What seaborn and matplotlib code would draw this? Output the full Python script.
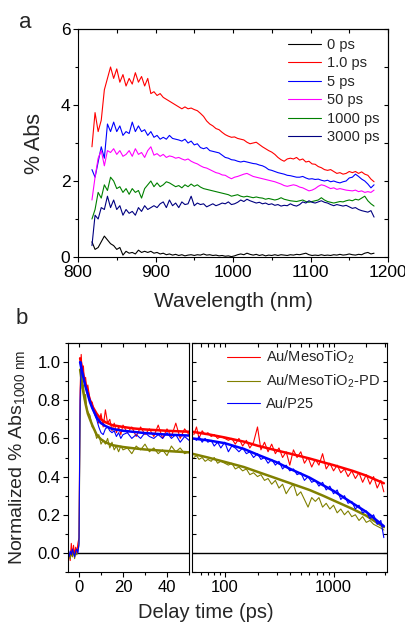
import numpy as np
import matplotlib
matplotlib.use('Agg')
import matplotlib.pyplot as plt
import seaborn as sns
from matplotlib.ticker import MultipleLocator, FixedLocator, NullFormatter

# ---- panel a: transient spectra (% Abs vs wavelength) ----
wavelength = np.arange(818, 1183, 4)

abs_0ps = [0.40, 0.20, 0.25, 0.40, 0.55, 0.45, 0.35, 0.30, 0.20, 0.25,
           0.05, 0.15, 0.10, 0.12, 0.08, 0.18, 0.12, 0.15, 0.12, 0.15,
           0.10, 0.12, 0.08, 0.10, 0.06, 0.08, 0.05, 0.07, 0.04, 0.06,
           0.03, 0.05, 0.06, 0.04, 0.06, 0.05, 0.08, 0.05, 0.06, 0.04,
           0.05, 0.03, 0.04, 0.02, 0.03, 0.01, 0.03, 0.06, 0.08, 0.06,
           0.10, 0.07, 0.05, 0.07, 0.04, 0.06, 0.03, 0.05, 0.04, 0.06,
           0.04, 0.06, 0.05, 0.04, 0.06, 0.05, 0.07, 0.06, 0.08, 0.10,
           0.06, 0.04, 0.05, 0.04, 0.06, 0.04, 0.05, 0.04, 0.06, 0.05,
           0.07, 0.05, 0.06, 0.08, 0.06, 0.05, 0.07, 0.06, 0.10, 0.12,
           0.08, 0.10]
abs_1ps = [2.90, 3.80, 3.30, 3.60, 4.40, 4.70, 5.00, 4.70, 4.95, 4.60,
           4.80, 4.50, 4.70, 4.55, 4.85, 4.60, 4.75, 4.50, 4.70, 4.30,
           4.35, 4.25, 4.30, 4.20, 4.15, 4.10, 4.05, 4.00, 3.95, 3.90,
           3.95, 3.90, 3.92, 3.88, 3.85, 3.78, 3.70, 3.58, 3.50, 3.45,
           3.38, 3.35, 3.28, 3.22, 3.18, 3.15, 3.16, 3.12, 3.10, 3.08,
           3.02, 2.98, 3.00, 3.02, 2.96, 2.90, 2.85, 2.80, 2.76, 2.70,
           2.62, 2.56, 2.52, 2.58, 2.60, 2.58, 2.62, 2.55, 2.58, 2.50,
           2.52, 2.45, 2.44, 2.38, 2.35, 2.30, 2.28, 2.30, 2.25, 2.20,
           2.22, 2.18, 2.20, 2.25, 2.22, 2.25, 2.20, 2.24, 2.18, 2.15,
           2.05, 1.98]
abs_5ps = [2.30, 2.10, 2.50, 2.90, 2.60, 3.50, 3.30, 3.55, 3.30, 3.45,
           3.20, 3.30, 3.25, 3.55, 3.30, 3.45, 3.30, 3.35, 3.20, 3.30,
           3.15, 3.20, 3.10, 3.15, 3.10, 3.20, 3.12, 3.10, 3.08, 3.05,
           3.10, 3.00, 3.05, 2.95, 2.98, 2.88, 2.85, 2.88, 2.80, 2.78,
           2.76, 2.74, 2.68, 2.62, 2.60, 2.56, 2.55, 2.52, 2.50, 2.52,
           2.50, 2.48, 2.46, 2.45, 2.42, 2.40, 2.36, 2.30, 2.28, 2.25,
           2.22, 2.20, 2.18, 2.15, 2.14, 2.12, 2.10, 2.10, 2.12, 2.08,
           2.05, 2.06, 2.04, 2.05, 2.02, 2.00, 2.02, 1.98, 2.00, 1.97,
           1.95, 1.98, 2.00, 2.08, 2.10, 2.18, 2.12, 2.05, 2.00, 1.92,
           1.82, 1.90]
abs_50ps = [1.50, 2.10, 2.60, 2.80, 2.40, 2.80, 2.75, 2.85, 2.70, 2.80,
            2.65, 2.70, 2.80, 2.65, 2.85, 2.70, 2.75, 2.62, 2.80, 2.90,
            2.68, 2.72, 2.65, 2.70, 2.62, 2.66, 2.64, 2.60, 2.62, 2.58,
            2.55, 2.58, 2.52, 2.48, 2.45, 2.40, 2.36, 2.34, 2.30, 2.26,
            2.22, 2.20, 2.16, 2.15, 2.10, 2.06, 2.10, 2.12, 2.15, 2.18,
            2.20, 2.16, 2.12, 2.10, 2.08, 2.06, 2.04, 2.02, 2.00, 1.98,
            1.95, 1.92, 1.88, 1.86, 1.88, 1.90, 1.88, 1.84, 1.82, 1.78,
            1.74, 1.76, 1.80, 1.86, 1.90, 1.88, 1.84, 1.80, 1.82, 1.78,
            1.80, 1.78, 1.76, 1.75, 1.74, 1.76, 1.72, 1.74, 1.70, 1.72,
            1.70, 1.76]
abs_1000ps = [1.00, 1.25, 1.70, 1.55, 1.90, 1.75, 2.10, 2.00, 1.80, 1.85,
              1.70, 1.80, 1.65, 1.80, 1.70, 1.75, 1.55, 1.80, 1.90, 2.00,
              1.85, 1.95, 1.85, 1.90, 1.98, 1.95, 1.90, 1.85, 1.88, 1.82,
              1.90, 1.85, 1.92, 1.86, 1.90, 1.84, 1.80, 1.78, 1.76, 1.74,
              1.72, 1.70, 1.68, 1.66, 1.64, 1.60, 1.62, 1.64, 1.60, 1.58,
              1.60, 1.58, 1.56, 1.58, 1.56, 1.55, 1.52, 1.54, 1.52, 1.50,
              1.52, 1.56, 1.52, 1.50, 1.48, 1.47, 1.46, 1.48, 1.50, 1.46,
              1.44, 1.46, 1.48, 1.50, 1.56, 1.50, 1.46, 1.44, 1.42, 1.44,
              1.46, 1.45, 1.48, 1.50, 1.48, 1.52, 1.50, 1.55, 1.60, 1.48,
              1.40, 1.34]
abs_3000ps = [0.30, 1.10, 1.00, 1.30, 1.25, 1.60, 1.30, 1.50, 1.25, 1.35,
              1.10, 1.25, 1.15, 1.20, 1.10, 1.30, 1.20, 1.35, 1.25, 1.30,
              1.35, 1.30, 1.40, 1.45, 1.30, 1.50, 1.35, 1.42, 1.30, 1.45,
              1.38, 1.40, 1.60, 1.35, 1.42, 1.38, 1.40, 1.32, 1.36, 1.40,
              1.35, 1.38, 1.42, 1.40, 1.45, 1.38, 1.40, 1.44, 1.50, 1.46,
              1.52, 1.48, 1.45, 1.42, 1.44, 1.40, 1.42, 1.38, 1.40, 1.36,
              1.38, 1.34, 1.36, 1.35, 1.40, 1.36, 1.34, 1.38, 1.45, 1.42,
              1.48, 1.44, 1.42, 1.45, 1.48, 1.44, 1.42, 1.38, 1.35, 1.38,
              1.36, 1.34, 1.36, 1.32, 1.28, 1.30, 1.25, 1.22, 1.20, 1.18,
              1.22, 1.05]

spectra_labels = ['0 ps', '1.0 ps', '5 ps', '50 ps', '1000 ps', '3000 ps']
spectra_colors = ['black', '#ff0000', '#0000ff', '#ff00ff', '#008000', '#000080']
spectra_values = [abs_0ps, abs_1ps, abs_5ps, abs_50ps, abs_1000ps, abs_3000ps]

# ---- panel b: kinetics at 1000 nm ----
t_early = [-4.5, -4, -3.5, -3, -2.5, -2, -1.5, -1, -0.5, 0,
           0.5, 1, 1.5, 2, 2.5, 3, 3.5, 4, 5, 6,
           7, 8, 9, 10, 11, 12, 13, 14, 15, 16,
           17, 18, 19, 20, 22, 24, 26, 28, 30, 32,
           34, 36, 38, 40, 42, 44, 46, 48, 50]
meso_early = [0.00, -0.04, 0.05, -0.02, 0.04, -0.01, 0.03, 0.00, 0.05, 0.08,
              0.85, 1.04, 0.93, 0.98, 0.88, 0.92, 0.86, 0.88, 0.80, 0.79,
              0.74, 0.72, 0.68, 0.73, 0.66, 0.75, 0.68, 0.70, 0.64, 0.68,
              0.63, 0.66, 0.62, 0.67, 0.63, 0.66, 0.61, 0.66, 0.62, 0.65,
              0.61, 0.67, 0.60, 0.65, 0.61, 0.68, 0.60, 0.65, 0.62]
mesopd_early = [-0.01, -0.03, 0.00, -0.02, 0.01, -0.03, 0.00, -0.01, 0.01, 0.04,
                0.70, 0.98, 0.86, 0.88, 0.80, 0.83, 0.76, 0.74, 0.72, 0.66,
                0.65, 0.60, 0.62, 0.57, 0.59, 0.57, 0.60, 0.55, 0.58, 0.54,
                0.56, 0.53, 0.56, 0.54, 0.55, 0.52, 0.56, 0.54, 0.57, 0.53,
                0.55, 0.52, 0.54, 0.51, 0.56, 0.53, 0.55, 0.52, 0.53]
p25_early = [-0.02, 0.01, -0.01, 0.02, 0.00, -0.02, 0.01, 0.02, 0.00, 0.05,
             0.80, 1.00, 0.95, 0.92, 0.90, 0.87, 0.86, 0.84, 0.80, 0.76,
             0.73, 0.70, 0.66, 0.63, 0.62, 0.65, 0.66, 0.64, 0.63, 0.64,
             0.61, 0.63, 0.60, 0.62, 0.63, 0.60, 0.62, 0.60, 0.63, 0.61,
             0.60, 0.62, 0.60, 0.63, 0.60, 0.62, 0.58, 0.61, 0.59]

t_late = [52, 55, 58, 62, 66, 70, 75, 80, 86, 92,
          100, 108, 116, 125, 135, 146, 158, 170, 184, 200,
          215, 232, 250, 270, 292, 315, 340, 367, 396, 428,
          462, 500, 540, 583, 630, 680, 734, 793, 856, 925,
          1000, 1080, 1166, 1260, 1360, 1470, 1587, 1714, 1851, 2000,
          2160, 2333, 2520, 2721, 2900]
meso_late = [0.62, 0.66, 0.60, 0.64, 0.62, 0.63, 0.61, 0.62, 0.60, 0.61,
             0.60, 0.59, 0.60, 0.57, 0.60, 0.56, 0.59, 0.55, 0.58, 0.66,
             0.54, 0.58, 0.53, 0.57, 0.52, 0.55, 0.50, 0.53, 0.46, 0.54,
             0.50, 0.53, 0.47, 0.50, 0.45, 0.49, 0.46, 0.52, 0.44, 0.47,
             0.43, 0.46, 0.42, 0.44, 0.40, 0.43, 0.39, 0.42, 0.37, 0.41,
             0.36, 0.40, 0.34, 0.38, 0.32]
mesopd_late = [0.50, 0.51, 0.49, 0.50, 0.48, 0.49, 0.48, 0.50, 0.47, 0.48,
               0.47, 0.46, 0.47, 0.44, 0.45, 0.43, 0.44, 0.41, 0.42, 0.40,
               0.41, 0.38, 0.39, 0.36, 0.38, 0.34, 0.36, 0.31, 0.34, 0.36,
               0.30, 0.32, 0.28, 0.24, 0.29, 0.27, 0.29, 0.24, 0.26, 0.23,
               0.25, 0.21, 0.23, 0.20, 0.22, 0.19, 0.20, 0.17, 0.19, 0.16,
               0.17, 0.15, 0.14, 0.13, 0.12]
p25_late = [0.60, 0.59, 0.61, 0.58, 0.60, 0.58, 0.59, 0.56, 0.58, 0.55,
            0.58, 0.53, 0.56, 0.55, 0.53, 0.55, 0.52, 0.53, 0.50, 0.52,
            0.49, 0.50, 0.47, 0.49, 0.46, 0.48, 0.44, 0.46, 0.43, 0.44,
            0.41, 0.42, 0.38, 0.40, 0.37, 0.38, 0.35, 0.37, 0.33, 0.35,
            0.31, 0.33, 0.28, 0.30, 0.26, 0.27, 0.23, 0.25, 0.21, 0.22,
            0.18, 0.20, 0.15, 0.17, 0.08]

# fitted curves
t_fit_early = [0.5, 1, 2, 3, 4, 5, 6, 8, 10, 12, 15, 20, 25, 30, 40, 50]
meso_fit_early = [1.02, 0.99, 0.93, 0.88, 0.84, 0.80, 0.77, 0.73, 0.70, 0.685,
                  0.67, 0.66, 0.652, 0.647, 0.64, 0.635]
mesopd_fit_early = [0.96, 0.92, 0.84, 0.78, 0.73, 0.70, 0.67, 0.62, 0.595, 0.58,
                    0.565, 0.555, 0.548, 0.542, 0.534, 0.527]
p25_fit_early = [1.00, 0.97, 0.92, 0.87, 0.83, 0.79, 0.76, 0.71, 0.68, 0.665,
                 0.65, 0.64, 0.634, 0.628, 0.62, 0.615]

t_fit_late = [50, 70, 100, 150, 200, 300, 400, 600, 800, 1000, 1500, 2000, 2900]
meso_fit_late = [0.635, 0.622, 0.605, 0.583, 0.562, 0.537, 0.52, 0.495, 0.475,
                 0.46, 0.43, 0.405, 0.365]
mesopd_fit_late = [0.52, 0.50, 0.477, 0.45, 0.425, 0.39, 0.365, 0.33, 0.30,
                   0.275, 0.23, 0.195, 0.135]
p25_fit_late = [0.60, 0.59, 0.575, 0.545, 0.515, 0.475, 0.44, 0.395, 0.355,
                0.325, 0.26, 0.215, 0.14]

sample_labels = ['Au/MesoTiO$_2$', 'Au/MesoTiO$_2$-PD', 'Au/P25']
sample_colors = ['#ff0000', '#808000', '#0000ff']


def setup_style():
    sns.set_theme(style='ticks')
    plt.rcParams['font.family'] = ['Liberation Sans', 'DejaVu Sans']
    plt.rcParams['mathtext.default'] = 'regular'
    plt.rcParams['axes.linewidth'] = 0.8
    plt.rcParams['xtick.major.width'] = 0.8
    plt.rcParams['ytick.major.width'] = 0.8
    plt.rcParams['xtick.minor.width'] = 0.8
    plt.rcParams['ytick.minor.width'] = 0.8
    plt.rcParams['xtick.color'] = 'black'
    plt.rcParams['ytick.color'] = 'black'
    plt.rcParams['axes.edgecolor'] = 'black'


def mirror_ticks(ax, xmajor, xminor, ymajor, yminor):
    # ticks on the top and right sides point inwards (Origin style)
    top = ax.secondary_xaxis('top')
    top.xaxis.set_major_locator(xmajor)
    top.xaxis.set_minor_locator(xminor)
    top.tick_params(which='both', direction='in', labeltop=False, length=3)
    if ymajor is not None:
        right = ax.secondary_yaxis('right')
        right.yaxis.set_major_locator(ymajor)
        right.yaxis.set_minor_locator(yminor)
        right.tick_params(which='both', direction='in', labelright=False, length=3)


def plot_spectra(fig):
    ax = fig.add_axes([78 / 406, 1 - 257 / 623, 310 / 406, 228 / 623])
    for name, col, vals in zip(spectra_labels, spectra_colors, spectra_values):
        sns.lineplot(x=wavelength, y=vals, ax=ax, color=col, lw=0.8,
                     label=name, errorbar=None)
    ax.set_xlim(800, 1200)
    ax.set_ylim(0, 6)
    ax.xaxis.set_major_locator(MultipleLocator(100))
    ax.xaxis.set_minor_locator(MultipleLocator(50))
    ax.yaxis.set_major_locator(MultipleLocator(2))
    ax.yaxis.set_minor_locator(MultipleLocator(1))
    ax.tick_params(which='both', direction='out', labelsize=12.5, length=3.5, pad=2)
    ax.tick_params(which='minor', length=2.5)
    mirror_ticks(ax, MultipleLocator(100), MultipleLocator(50),
                 MultipleLocator(2), MultipleLocator(1))
    ax.set_xlabel('Wavelength (nm)', fontsize=15)
    ax.xaxis.set_label_coords(0.5, -0.155)
    ax.set_ylabel('% Abs', fontsize=15.5)
    ax.yaxis.set_label_coords(-0.105, 0.5)
    ax.legend(loc='upper left', bbox_to_anchor=(0.677, 0.96), frameon=False,
              fontsize=10.5, borderpad=0, borderaxespad=0, labelspacing=0.3,
              handlelength=2.3, handletextpad=0.35)
    fig.text(25 / 406, 1 - 22 / 623, 'a', fontsize=16, ha='center', va='center')


def plot_kinetics(fig):
    bottom = 1 - 572 / 623
    height = 229 / 623
    ax_l = fig.add_axes([68 / 406, bottom, 121 / 406, height])
    ax_r = fig.add_axes([192 / 406, bottom, 195 / 406, height])

    early = [meso_early, mesopd_early, p25_early]
    late = [meso_late, mesopd_late, p25_late]
    fit_early = [meso_fit_early, mesopd_fit_early, p25_fit_early]
    fit_late = [meso_fit_late, mesopd_fit_late, p25_fit_late]

    for i, (name, col) in enumerate(zip(sample_labels, sample_colors)):
        sns.lineplot(x=t_early, y=early[i], ax=ax_l, color=col, lw=0.8, errorbar=None)
        sns.lineplot(x=t_fit_early, y=fit_early[i], ax=ax_l, color=col, lw=1.8, errorbar=None)
        sns.lineplot(x=t_late, y=late[i], ax=ax_r, color=col, lw=0.8,
                     label=name, errorbar=None)
        sns.lineplot(x=t_fit_late, y=fit_late[i], ax=ax_r, color=col, lw=1.8, errorbar=None)

    for ax in (ax_l, ax_r):
        ax.axhline(0, color='black', lw=1.0, zorder=1)
        ax.set_ylim(-0.1, 1.1)
        ax.yaxis.set_major_locator(MultipleLocator(0.2))
        ax.yaxis.set_minor_locator(MultipleLocator(0.1))

    # left (linear) part
    ax_l.set_xlim(-5, 50)
    ax_l.xaxis.set_major_locator(MultipleLocator(20))
    ax_l.xaxis.set_minor_locator(MultipleLocator(10))
    ax_l.tick_params(which='both', direction='out', labelsize=12, length=3.5, pad=2,
                     right=False)
    ax_l.tick_params(which='minor', length=2.5)
    ax_l.yaxis.set_major_formatter(matplotlib.ticker.FormatStrFormatter('%.1f'))
    mirror_ticks(ax_l, MultipleLocator(10), MultipleLocator(10), None, None)

    # right (log) part
    ax_r.set_xscale('log')
    ax_r.set_xlim(50, 3100)
    ax_r.xaxis.set_major_locator(FixedLocator([100, 1000]))
    ax_r.xaxis.set_major_formatter(matplotlib.ticker.FixedFormatter(['100', '1000']))
    minor_t = [60, 70, 80, 90, 200, 300, 400, 500, 600, 700, 800, 900, 2000, 3000]
    ax_r.xaxis.set_minor_locator(FixedLocator(minor_t))
    ax_r.xaxis.set_minor_formatter(NullFormatter())
    ax_r.tick_params(axis='x', which='both', direction='out', labelsize=12,
                     length=3.5, pad=2)
    ax_r.tick_params(axis='x', which='minor', length=2.5)
    ax_r.tick_params(axis='y', which='both', direction='in', left=True, right=True,
                     labelleft=False, length=3)
    mirror_ticks(ax_r, FixedLocator([100, 1000]), FixedLocator(minor_t), None, None)

    ax_l.set_ylabel('Normalized % Abs$_{1000\\ nm}$', fontsize=14)
    ax_l.yaxis.set_label_coords(-0.34, 0.5)
    ax_r.legend(loc='upper left', bbox_to_anchor=(0.179, 0.975), frameon=False,
                fontsize=10.5, borderpad=0, borderaxespad=0, labelspacing=0.45,
                handlelength=2.3, handletextpad=0.35)
    fig.text(206 / 406, 1 - 603 / 623, 'Delay time (ps)', fontsize=14.5,
             ha='center', va='top')
    fig.text(22 / 406, 1 - 318 / 623, 'b', fontsize=16, ha='center', va='center')


def main():
    setup_style()
    fig = plt.figure(figsize=(4.06, 6.23), dpi=100)
    plot_spectra(fig)
    plot_kinetics(fig)
    fig.savefig('out.png', dpi=100)
    plt.close(fig)


if __name__ == '__main__':
    main()
